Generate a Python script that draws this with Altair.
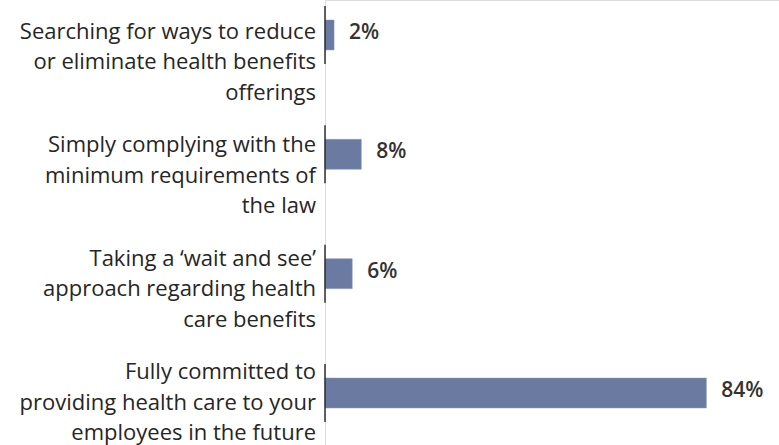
import altair as alt
import pandas as pd

keys = ["reduce", "comply", "wait", "committed"]
label_lines = [
    "Searching for ways to reduce\nor eliminate health benefits\nofferings",
    "Simply complying with the\nminimum requirements of\nthe law",
    "Taking a \u2018wait and see\u2019\napproach regarding health\ncare benefits",
    "Fully committed to\nproviding health care to your\nemployees in the future",
]
values = [2, 8, 6, 84]
value_labels = ["2%", "8%", "6%", "84%"]

df = pd.DataFrame({"key": keys, "label": label_lines, "value": values, "vlabel": value_labels})

FONT = "Open Sans"
xs = alt.Scale(domain=[0, 100])


def ybar():
    return alt.Y("key:N", sort=keys, axis=None,
                 scale=alt.Scale(type="band", range=[20, 408], paddingInner=0.749, paddingOuter=0))


ylab = alt.Y("key:N", sort=keys, axis=None,
             scale=alt.Scale(type="band", range=[-24.67, 428.67], paddingInner=0, paddingOuter=0))

base = alt.Chart(df)
bars = base.mark_bar(color="#6a7aa1", stroke="#8a98b8", strokeWidth=0.5).encode(
    x=alt.X("value:Q", scale=xs, axis=None), y=ybar())
ticks = base.transform_calculate(zero="0").mark_tick(
    color="#222222", thickness=2, size=58).encode(
    x=alt.X("zero:Q", scale=xs, axis=None), y=ybar())
vtext = base.mark_text(align="left", baseline="middle", dx=15, dy=-2, font=FONT,
                       fontSize=21, fontWeight=600, color="#333333").encode(
    x=alt.X("value:Q", scale=xs, axis=None), y=ybar(), text="vlabel:N")
labels = base.mark_text(align="right", baseline="middle", lineBreak="\n", lineHeight=30.5,
                        font=FONT, fontSize=22, color="#262626").encode(
    x=alt.value(-9), y=ylab, text="label:N")

chart = alt.layer(bars, ticks, vtext, labels).resolve_scale(y="independent").properties(
    width=454, height=445,
    autosize=alt.AutoSizeParams(type="none"),
    padding={"left": 325, "top": 0, "right": 0, "bottom": 0},
).configure_view(stroke=None).configure(background="white")

chart.save("out.html", embed_options={"renderer": "svg", "actions": False})
